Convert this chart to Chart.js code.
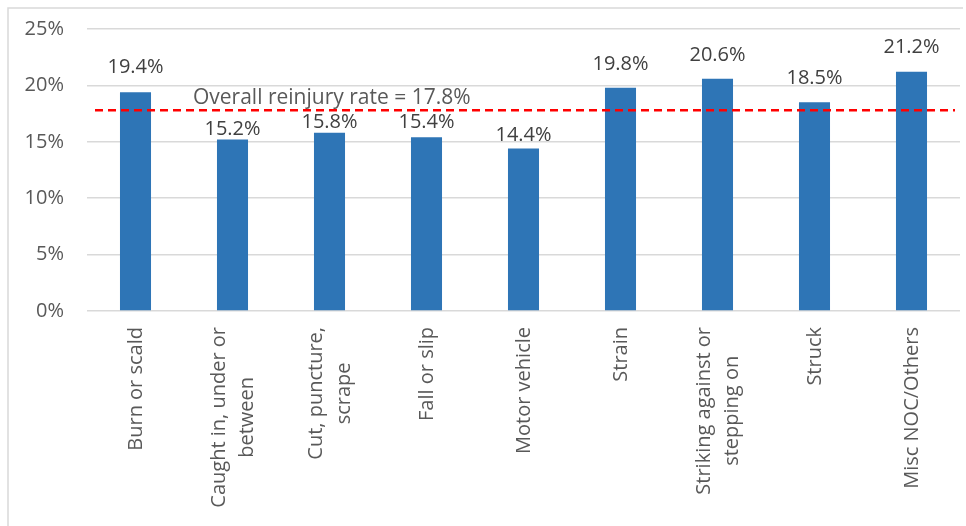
<!DOCTYPE html>
<html>
<head>
<meta charset="utf-8">
<script src="https://cdn.jsdelivr.net/npm/chart.js@4/dist/chart.umd.min.js"></script>
<style>
  html, body { margin: 0; padding: 0; background: #fff; }
  #wrap { width: 966px; height: 526px; }
</style>
</head>
<body>
<div id="wrap"><canvas id="grafico-reinjury" width="966" height="526"></canvas></div>
<script>
// Categorias (linhas separadas onde o rótulo quebra)
const categories = [
    'Burn or scald',
    ['Caught in, under or', 'between'],
    ['Cut, puncture,', 'scrape'],
    'Fall or slip',
    'Motor vehicle',
    'Strain',
    ['Striking against or', 'stepping on'],
    'Struck',
    'Misc NOC/Others'
];
// Taxa de reincidência por tipo de lesão (%)
const rates = [19.4, 15.2, 15.8, 15.4, 14.4, 19.8, 20.6, 18.5, 21.2];
// Taxa geral
const overallRate = 17.8;
const overallText = 'Overall reinjury rate = 17.8%';
// Marcas do eixo Y
const yTicks = [0, 5, 10, 15, 20, 25];
// Distância (px) entre o topo da barra e o rótulo de valor
const labelLift = [19, 5, 5, 9, 8, 18, 18, 18, 19];

const FONT = '"Open Sans", sans-serif';
const GRAY = '#595959';

const extras = {
    id: 'extras',
    beforeDraw(chart) {
        const ctx = chart.ctx;
        ctx.save();
        ctx.fillStyle = '#fff';
        ctx.fillRect(0, 0, chart.width, chart.height);
        // moldura
        ctx.strokeStyle = '#D9D9D9';
        ctx.lineWidth = 1.5;
        ctx.beginPath();
        ctx.moveTo(8, chart.height);
        ctx.lineTo(8, 8);
        ctx.lineTo(963, 8);
        ctx.stroke();
        ctx.restore();
    },
    afterDatasetsDraw(chart) {
        const ctx = chart.ctx;
        const area = chart.chartArea;
        const y = chart.scales.y;
        const x = chart.scales.x;

        // linha tracejada da taxa geral
        const lineY = y.getPixelForValue(overallRate);
        ctx.save();
        ctx.strokeStyle = '#FF0000';
        ctx.lineWidth = 2.5;
        ctx.setLineDash([8, 5]);
        ctx.beginPath();
        ctx.moveTo(area.left + 8, lineY);
        ctx.lineTo(area.right - 5, lineY);
        ctx.stroke();
        ctx.setLineDash([]);

        ctx.font = '21px ' + FONT;
        ctx.fillStyle = GRAY;
        ctx.textAlign = 'left';
        ctx.textBaseline = 'alphabetic';
        ctx.fillText(overallText, area.left + 106, lineY - 6);

        // rótulos de valor
        ctx.font = '20px ' + FONT;
        ctx.fillStyle = '#404040';
        ctx.textAlign = 'center';
        const meta = chart.getDatasetMeta(0);
        meta.data.forEach((bar, i) => {
            ctx.fillText(rates[i].toFixed(1) + '%', bar.x, bar.y - labelLift[i]);
        });

        // rótulos do eixo X (verticais, linhas centralizadas)
        ctx.fillStyle = GRAY;
        ctx.textBaseline = 'middle';
        const lineH = 28;
        categories.forEach((cat, i) => {
            const lines = Array.isArray(cat) ? cat : [cat];
            const blockW = Math.max(...lines.map(l => ctx.measureText(l).width));
            const cx = x.getPixelForValue(i) + 1;
            ctx.save();
            ctx.translate(cx, area.bottom + 16);
            ctx.rotate(-Math.PI / 2);
            lines.forEach((l, k) => {
                const off = (k - (lines.length - 1) / 2) * lineH;
                ctx.fillText(l, -blockW / 2, off);
            });
            ctx.restore();
        });
        ctx.restore();
    }
};

const ctxReinjury = document.getElementById('grafico-reinjury').getContext('2d');
const reinjuryChart = new Chart(ctxReinjury, {
    type: 'bar',
    data: {
        labels: categories,
        datasets: [{
            data: rates,
            backgroundColor: '#2E75B6',
            borderWidth: 0,
            categoryPercentage: 1,
            barPercentage: 0.32
        }]
    },
    options: {
        responsive: false,
        animation: false,
        events: [],
        layout: {
            padding: { left: 8, top: 29, right: 6, bottom: 0 }
        },
        plugins: {
            legend: { display: false },
            tooltip: { enabled: false }
        },
        scales: {
            x: {
                grid: { display: false },
                border: { display: false },
                ticks: { display: false },
                afterFit(scale) { scale.height = 215; }
            },
            y: {
                min: 0,
                max: 25,
                afterBuildTicks(scale) {
                    scale.ticks = yTicks.map(v => ({ value: v }));
                },
                afterFit(scale) { scale.width = 79; },
                grid: {
                    color: '#D9D9D9',
                    lineWidth: 1.5,
                    // marcas invisíveis só para afastar os rótulos
                    tickLength: 20,
                    tickColor: 'rgba(0,0,0,0)'
                },
                border: { display: false },
                ticks: {
                    padding: 3,
                    color: GRAY,
                    font: { family: FONT, size: 20 },
                    callback: v => v + '%'
                }
            }
        }
    },
    plugins: [extras]
});
</script>
</body>
</html>
